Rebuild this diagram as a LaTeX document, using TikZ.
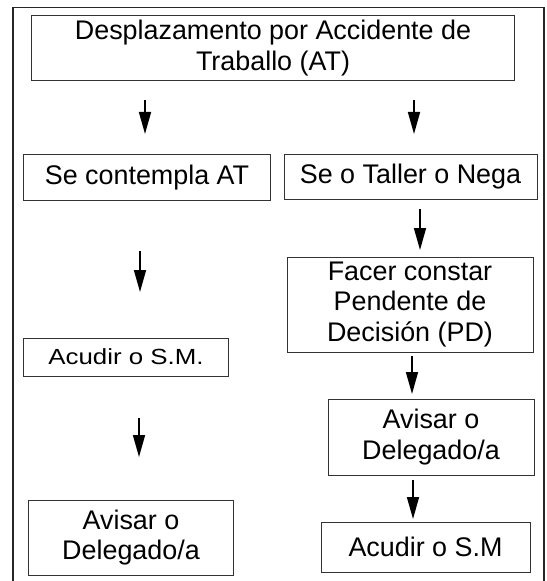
\documentclass[tikz,border=0pt]{standalone}
\usepackage{fontspec}
\usepackage{graphicx}
\setmainfont{Liberation Sans}
\usetikzlibrary{arrows.meta}
\begin{document}
\begin{tikzpicture}[x=1bp,y=-1bp,
  box/.style={draw=black!80,line width=1bp,inner sep=0pt,align=center,
    font=\fontsize{27}{30.5}\selectfont},
  flowarrow/.style={line width=1.6bp,-{Triangle[length=22bp,width=12bp]}},
  frame/.style={draw=black!85,line width=1.1bp}]
\useasboundingbox (0,0) rectangle (547,581);
\begin{scope}
\clip (0,0) rectangle (547,581);
\draw[frame] (13,600) -- (13,7.7) -- (544,7.7) -- (544,600);
\end{scope}
% boxes
\node[box,minimum width=483bp,minimum height=65bp] (top) at (273,48) {Desplazamento por Accidente de\\Traballo (AT)};
\node[box,minimum width=246bp,minimum height=45bp] (secat) at (147,177.5) {Se contempla AT};
\node[box,minimum width=253bp,minimum height=44bp] (taller) at (410.5,177) {Se o Taller o Nega};
\node[box,minimum width=246bp,minimum height=95bp] (facer) at (410,304.5) {Facer constar\\Pendente de\\Decisión (PD)};
\node[box,minimum width=204bp,minimum height=38bp,font=\fontsize{22}{25}\selectfont] (acudirL) at (126,357) {\scalebox{1.18}[1]{Acudir o S.M.}};
\node[box,minimum width=206bp,minimum height=76bp] (avisarR) at (431,437) {Avisar o\\Delegado/a};
\node[box,minimum width=204bp,minimum height=75bp] (avisarL) at (131,537.5) {Avisar o\\Delegado/a};
\node[box,minimum width=209bp,minimum height=50bp] (acudirR) at (425.5,547) {Acudir o S.M};
% arrow end points
\coordinate (a1s) at (145,100); \coordinate (a1e) at (145,134);
\coordinate (a2s) at (414,100); \coordinate (a2e) at (414,134);
\coordinate (a3s) at (420,209); \coordinate (a3e) at (420,250);
\coordinate (a4s) at (140,251); \coordinate (a4e) at (140,292);
\coordinate (a5s) at (139,418); \coordinate (a5e) at (139,457);
\coordinate (a6s) at (412,356); \coordinate (a6e) at (412,394);
\coordinate (a7s) at (413,480); \coordinate (a7e) at (413,519);
\draw[flowarrow] (a1s) -- (a1e);
\draw[flowarrow] (a2s) -- (a2e);
\draw[flowarrow] (a3s) -- (a3e);
\draw[flowarrow] (a4s) -- (a4e);
\draw[flowarrow] (a5s) -- (a5e);
\draw[flowarrow] (a6s) -- (a6e);
\draw[flowarrow] (a7s) -- (a7e);
\end{tikzpicture}
\end{document}
